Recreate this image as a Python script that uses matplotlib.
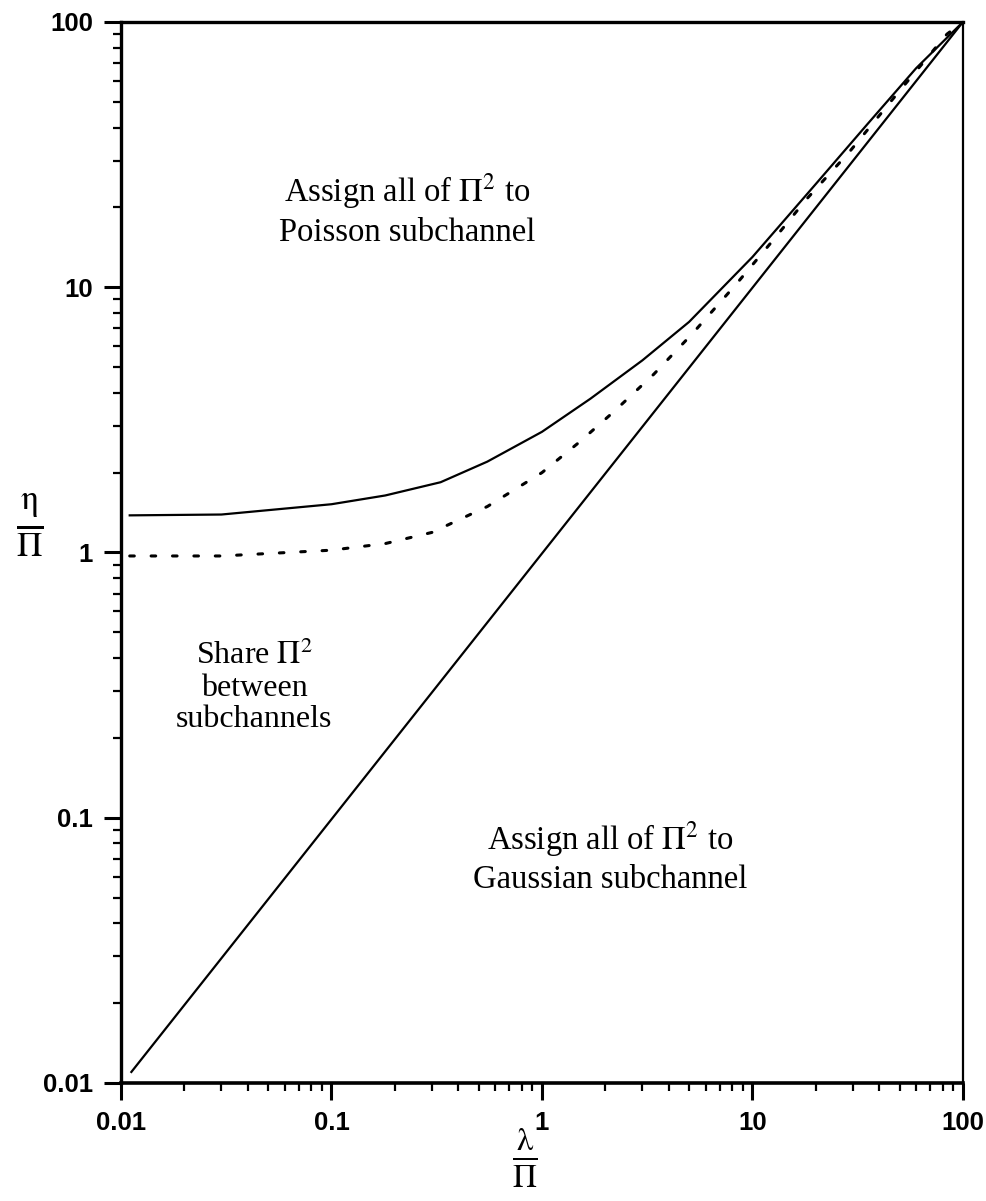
import numpy as np
import matplotlib
matplotlib.use("Agg")
import matplotlib.pyplot as plt
from matplotlib.ticker import LogLocator, FixedLocator, FixedFormatter, NullFormatter

# lambda/Pi values and eta/Pi thresholds
lower_x = [0.0112, 100]
lower_y = [0.011, 100]

upper_x = [0.011, 0.03, 0.1, 0.18, 0.33, 0.55, 1.0, 1.7, 3.0, 5.0, 10, 20, 35, 60, 100]
upper_y = [1.38, 1.39, 1.52, 1.64, 1.84, 2.2, 2.85, 3.8, 5.3, 7.4, 13.0, 24.5, 41, 67, 100]

dotted_x = [0.011, 0.03, 0.1, 0.18, 0.3, 0.55, 1.0, 1.5, 2.2, 3.4, 5.2, 8.4, 12.5, 18, 29, 50, 84, 100]
dotted_y = [0.97, 0.97, 1.02, 1.08, 1.19, 1.49, 2.0, 2.6, 3.4, 4.7, 6.7, 10.3, 15.0, 21.4, 32.5, 55, 90, 100]

tick_vals = [0.01, 0.1, 1, 10, 100]
tick_labels = ["0.01", "0.1", "1", "10", "100"]

plt.rcParams["mathtext.fontset"] = "stix"
tick_font = ["Liberation Sans", "DejaVu Sans"]
text_font = ["Liberation Serif", "DejaVu Serif"]

fig = plt.figure(figsize=(9.87, 12.01), dpi=100)
ax = fig.add_axes([0.1226, 0.0983, 0.853, 0.8834])

ax.plot(lower_x, lower_y, color="black", lw=1.6)
ax.plot(upper_x, upper_y, color="black", lw=1.6)
ax.plot(dotted_x, dotted_y, color="black", lw=2.2, linestyle=(0, (1.5, 5.5)),
        dash_capstyle="round")

ax.set_xscale("log")
ax.set_yscale("log")
ax.set_xlim(0.01, 100)
ax.set_ylim(0.01, 100)

for axis in (ax.xaxis, ax.yaxis):
    axis.set_major_locator(FixedLocator(tick_vals))
    axis.set_major_formatter(FixedFormatter(tick_labels))
    axis.set_minor_locator(LogLocator(base=10, subs=np.arange(2, 10)))
    axis.set_minor_formatter(NullFormatter())

ax.tick_params(which="major", direction="out", length=12, width=2.2, pad=8)
ax.tick_params(which="minor", direction="out", length=6, width=1.6)
ax.tick_params(top=False, right=False)
for lab in ax.get_xticklabels() + ax.get_yticklabels():
    lab.set_family(tick_font)
    lab.set_fontweight("bold")
    lab.set_fontsize(18.5)

ax.spines["left"].set_linewidth(2.4)
ax.spines["bottom"].set_linewidth(2.6)
ax.spines["top"].set_linewidth(2.4)
ax.spines["right"].set_linewidth(1.6)

# region annotations
ax.text(0.23, 19.6, "Assign all of $\\Pi^2$ to\nPoisson subchannel", ha="center", va="center",
        fontsize=23.5, family=text_font, linespacing=1.25)
ax.text(0.043, 0.31, "Share $\\Pi^2$\nbetween\nsubchannels", ha="center", va="center",
        fontsize=23, family=text_font, linespacing=1.12)
ax.text(2.1, 0.071, "Assign all of $\\Pi^2$ to\nGaussian subchannel", ha="center", va="center",
        fontsize=23.5, family=text_font, linespacing=1.25)

# axis labels as stacked fractions
fig.text(0.030, 1 - 525 / 1201, r"$\frac{\mathrm{\eta}}{\Pi}$", ha="center", va="center", fontsize=36)
fig.text(525 / 987, 1 - 1158 / 1201, r"$\frac{\mathrm{\lambda}}{\Pi}$", ha="center", va="center", fontsize=34)

fig.savefig("out.png", dpi=100)
